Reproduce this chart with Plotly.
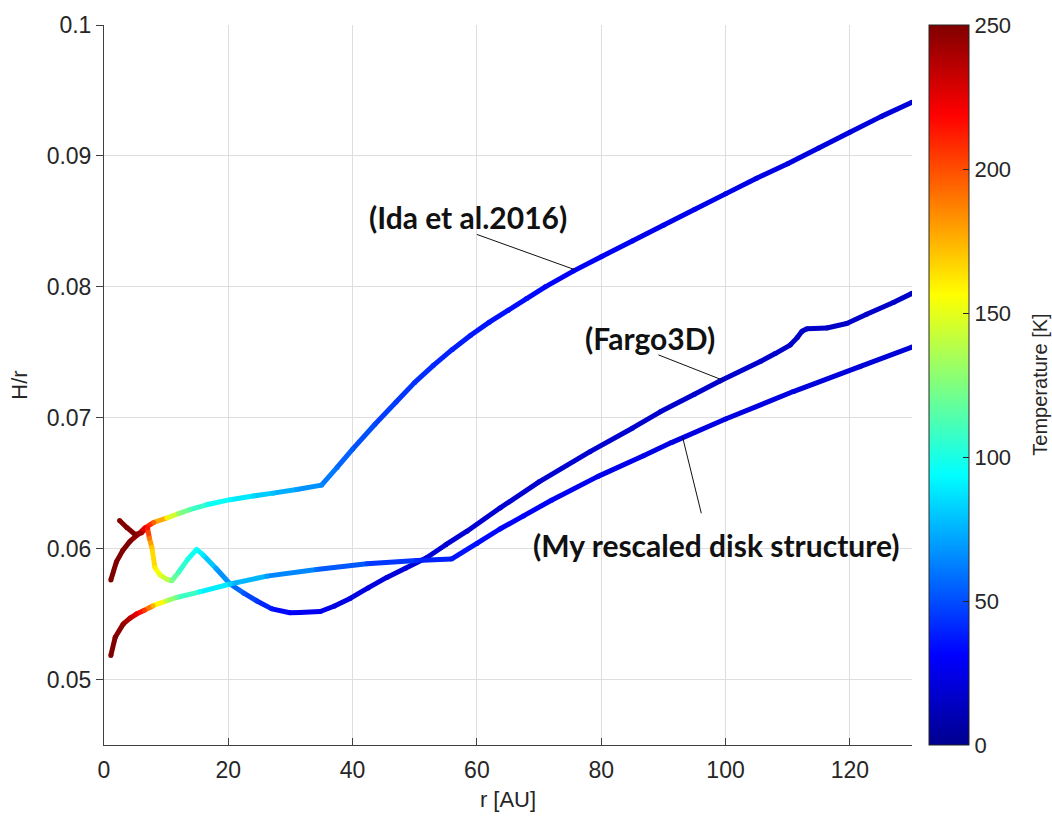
import plotly.graph_objects as go
from plotly.colors import sample_colorscale

# ---- data: aspect ratio H/r and midplane temperature along radius r [AU] ----
r_ida = [1.1, 2.0, 3.0, 4.2, 5.5, 6.6, 8.0, 10.1, 12.0, 13.8, 16.5, 20.3, 24.0, 27.2,
         31.0, 35.0, 37.5, 40.0, 43.6, 47.0, 50.0, 53.0, 56.0, 59.0, 62.0, 65.0, 68.0,
         71.0, 75.5, 80.0, 85.0, 90.0, 95.0, 100.0, 105.0, 110.0, 115.0, 120.0, 125.0, 130.0]
h_ida = [0.0576, 0.0590, 0.05985, 0.06057, 0.0611, 0.06159, 0.0620, 0.06234, 0.06268, 0.06298,
         0.06335, 0.06374, 0.06402, 0.06424, 0.06452, 0.06485, 0.0662, 0.0676, 0.0695, 0.0712,
         0.0727, 0.0740, 0.0752, 0.0763, 0.0773, 0.0782, 0.0791, 0.0800, 0.0812, 0.0823,
         0.0835, 0.0847, 0.0859, 0.0871, 0.0883, 0.0894, 0.0906, 0.0918, 0.0930, 0.0941]
t_ida = [250, 250, 250, 250, 240, 220, 195, 160, 130, 115, 100, 92, 85, 78,
         70, 64, 58, 53, 48, 45, 43, 41, 39, 37, 36, 35, 34,
         32, 30, 29, 27, 26, 25, 25, 24, 23, 22, 22, 21, 21]

r_fargo = [2.5, 3.7, 5.0, 6.0, 7.0, 7.3, 7.7, 8.2, 9.0, 10.1, 10.9, 12.0, 13.5, 14.9,
           16.0, 18.0, 20.3, 22.5, 24.6, 27.0, 29.9, 31.5, 34.8, 37.0, 39.6, 42.5, 45.5,
           48.5, 51.9, 55.0, 58.4, 63.7, 70.0, 78.2, 85.0, 89.5, 95.0, 99.1, 105.6, 108.0,
           110.4, 111.5, 112.3, 113.1, 116.3, 119.5, 122.7, 127.0, 130.0]
h_fargo = [0.06215, 0.0616, 0.06108, 0.0612, 0.0616, 0.0608, 0.0601, 0.05855, 0.0580, 0.05766,
           0.05754, 0.0582, 0.0592, 0.05994, 0.0595, 0.0585, 0.0573, 0.0566, 0.0560, 0.0554,
           0.0551, 0.05513, 0.0552, 0.0556, 0.0562, 0.0570, 0.0578, 0.0585, 0.0593, 0.0603,
           0.06133, 0.0631, 0.0651, 0.06741, 0.0692, 0.07045, 0.0718, 0.0728, 0.0743, 0.0749,
           0.07555, 0.0761, 0.0766, 0.0768, 0.07685, 0.0772, 0.0779, 0.0788, 0.0795]
t_fargo = [250, 250, 250, 240, 215, 190, 170, 160, 150, 140, 125, 110, 100, 95,
           88, 72, 62, 52, 44, 36, 30, 28, 26, 24, 23, 22, 21,
           21, 20, 20, 19, 19, 18, 18, 18, 17, 17, 17, 17, 17,
           16, 16, 16, 16, 16, 16, 16, 16, 16]

r_mine = [1.1, 1.8, 3.1, 4.2, 5.2, 6.5, 7.9, 10.0, 11.7, 15.4, 20.3, 26.2, 34.2, 42.3,
          50.3, 55.9, 60.0, 63.7, 67.5, 72.0, 79.4, 86.8, 91.3, 100.0, 110.9, 121.6, 130.0]
h_mine = [0.05184, 0.05323, 0.05425, 0.0547, 0.0550, 0.0553, 0.05564, 0.0560, 0.05627, 0.0567,
          0.0573, 0.0579, 0.0584, 0.05885, 0.0591, 0.0592, 0.0604, 0.0615, 0.0625, 0.0637,
          0.0655, 0.0671, 0.0681, 0.0699, 0.0720, 0.0739, 0.0754]
t_mine = [250, 250, 245, 235, 225, 205, 175, 140, 120, 97, 82, 70, 58, 48,
          41, 37, 34, 32, 30, 29, 27, 25, 24, 23, 22, 21, 20]

labels = ["(Ida et al.2016)", "(Fargo3D)", "(My rescaled disk structure)"]

T_MIN, T_MAX = 0, 250
JET = [[0.0, "rgb(0,0,143)"], [0.125, "rgb(0,0,255)"], [0.375, "rgb(0,255,255)"],
       [0.625, "rgb(255,255,0)"], [0.875, "rgb(255,0,0)"], [1.0, "rgb(128,0,0)"]]
LW = 5
FONT = "Liberation Sans, Arial, sans-serif"
INK = "#262626"


def tcolor(t):
    return sample_colorscale(JET, [(t - T_MIN) / (T_MAX - T_MIN)])[0]


fig = go.Figure()

curves = [(r_ida, h_ida, t_ida), (r_fargo, h_fargo, t_fargo), (r_mine, h_mine, t_mine)]
for k, (r, h, t) in enumerate(curves):
    # colour each piece of the curve by its local temperature
    for i in range(len(r) - 1):
        fig.add_trace(go.Scatter(
            x=[r[i], r[i + 1]], y=[h[i], h[i + 1]], mode="lines",
            line=dict(color=tcolor(0.5 * (t[i] + t[i + 1])), width=LW),
            hoverinfo="skip", showlegend=False))
    fig.add_trace(go.Scatter(
        x=r, y=h, mode="markers", showlegend=False,
        marker=dict(size=LW, color=t, colorscale=JET, cmin=T_MIN, cmax=T_MAX,
                    line=dict(width=0), showscale=(k == 0),
                    colorbar=dict(
                        x=1.021, xanchor="left", xpad=0, y=0.5, yanchor="middle",
                        len=1.0, lenmode="fraction", ypad=0, thickness=40,
                        outlinewidth=1, outlinecolor=INK,
                        tickvals=[0, 50, 100, 150, 200, 250], ticks="inside",
                        ticklen=6, tickcolor=INK,
                        tickfont=dict(family=FONT, size=22, color=INK))),
        hovertemplate="r=%{x}<br>H/r=%{y}<br>T=%{marker.color} K<extra></extra>"))

# colour bar caption
fig.add_annotation(xref="paper", yref="paper", x=1.158, y=0.5, text="Temperature [K]",
                   textangle=-90, showarrow=False, xanchor="center", yanchor="middle",
                   font=dict(family=FONT, size=20, color=INK))

# callout labels with leader lines
label_pos = [(58.6, 0.0853), (87.9, 0.0761), (98.5, 0.0603)]
leader = [((60.0, 0.0840), (75.8, 0.0813)),
          ((89.2, 0.0748), (99.4, 0.0729)),
          ((96.1, 0.0627), (93.1, 0.0685))]
for text, (lx, ly), ((x0, y0), (x1, y1)) in zip(labels, label_pos, leader):
    fig.add_annotation(x=lx, y=ly, text="<b>" + text + "</b>", showarrow=False,
                       font=dict(family="Lato, Open Sans, sans-serif", size=30, color="#111111"))
    fig.add_shape(type="line", x0=x0, y0=y0, x1=x1, y1=y1,
                  line=dict(color="#111111", width=1))

axis_common = dict(showgrid=True, gridcolor="#dedede", gridwidth=1, zeroline=False,
                   showline=True, linecolor="#404040", linewidth=1, mirror=False,
                   tickcolor="#404040", ticklen=7,
                   tickfont=dict(family=FONT, size=23, color=INK))

fig.update_layout(
    width=1052, height=827,
    margin=dict(l=104, r=140, t=21, b=82),
    paper_bgcolor="white", plot_bgcolor="white",
    xaxis=dict(range=[0, 130], tickvals=[0, 20, 40, 60, 80, 100, 120], ticks="inside",
               ticklabelstandoff=4,
               title=dict(text="r [AU]", font=dict(family=FONT, size=22, color=INK),
                          standoff=10),
               **axis_common),
    yaxis=dict(range=[0.045, 0.1], tickvals=[0.05, 0.06, 0.07, 0.08, 0.09, 0.1],
               ticktext=["0.05", "0.06", "0.07", "0.08", "0.09", "0.1"], ticks="outside",
               title=dict(text="H/r", font=dict(family=FONT, size=22, color=INK),
                          standoff=12),
               **axis_common),
)

fig.write_html("out.html")
